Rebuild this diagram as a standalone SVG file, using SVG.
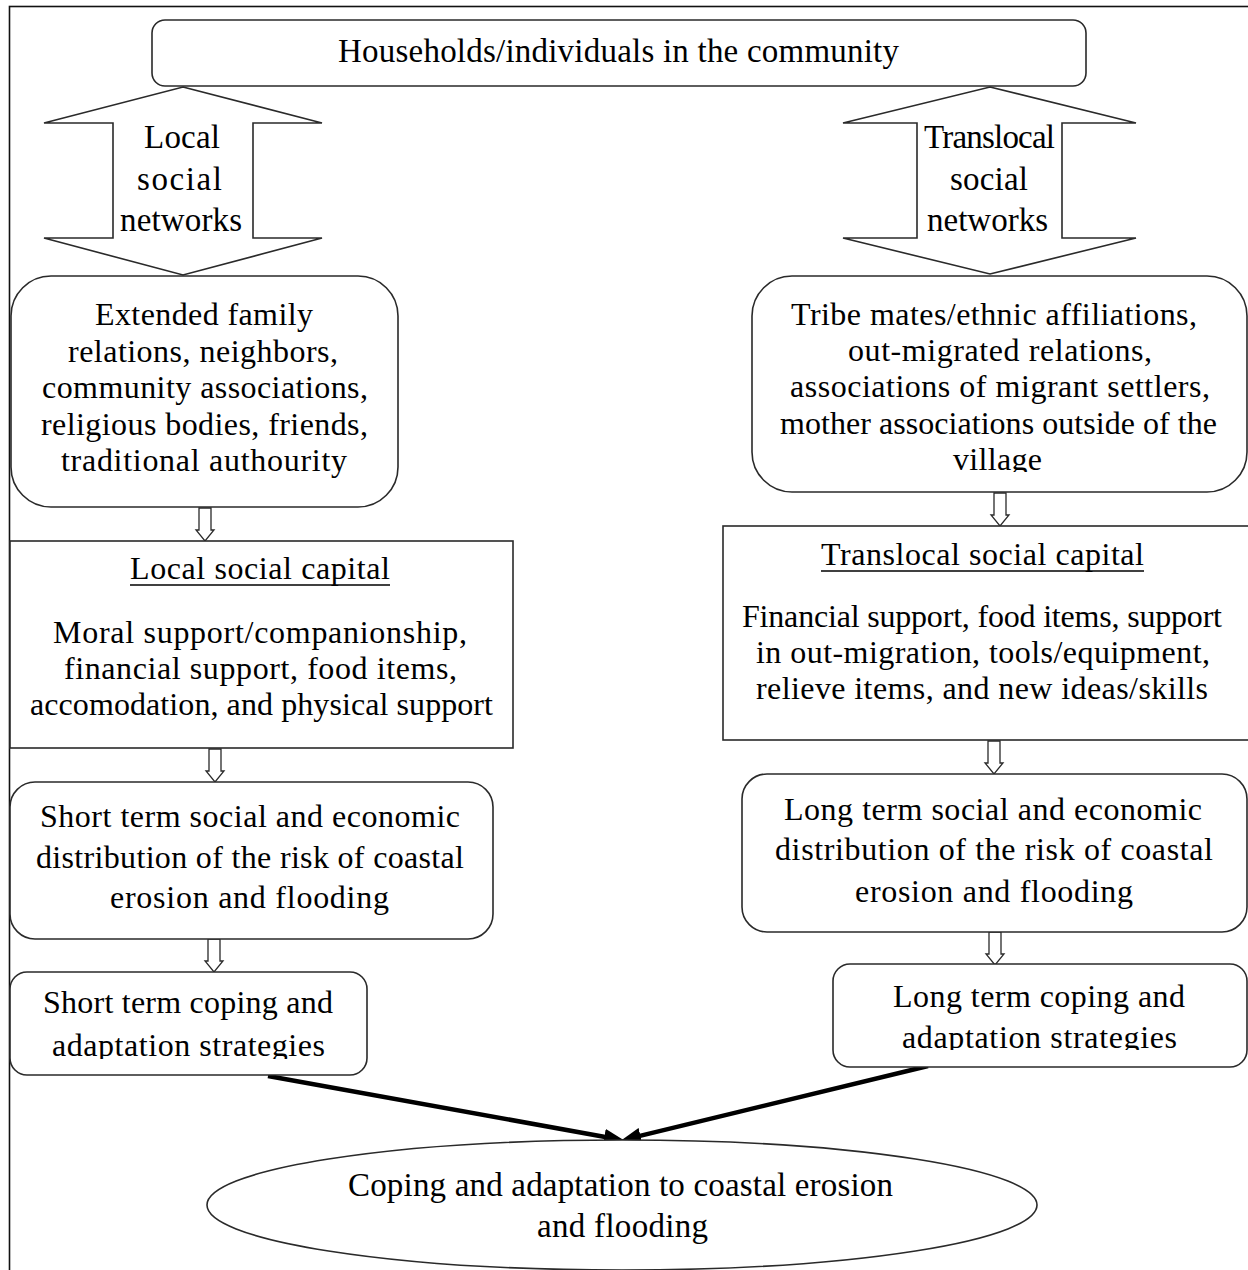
<svg xmlns="http://www.w3.org/2000/svg" width="1248" height="1270" viewBox="0 0 1248 1270">
  <style>
    .bx { fill: #fff; stroke: #2a2a2a; stroke-width: 1.6; }
    .t { font-family: "Liberation Serif", "Times New Roman", serif; font-size: 32px; fill: #000; }
    .tt { font-family: "Liberation Serif", "Times New Roman", serif; font-size: 33px; fill: #000; }
    .ul { stroke: #000; stroke-width: 1.5; }
    .ha { fill: #fff; stroke: #2a2a2a; stroke-width: 1.3; }
    .thick { stroke: #000; stroke-width: 4.5; fill: none; }
  </style>
  <defs>
    <marker id="head" markerUnits="userSpaceOnUse" viewBox="0 0 20 16" markerWidth="20" markerHeight="16" refX="8" refY="8" orient="auto">
      <path d="M0,0 L20,8 L0,16 Z" fill="#000"/>
    </marker>
    <path id="smallArrow" d="M-6,0 L6,0 L6,22 L9,22 L0,33 L-9,22 L-6,22 Z"/>
    <clipPath id="clipVillage"><rect x="740" y="270" width="520" height="202"/></clipPath>
    <clipPath id="clipShortCope"><rect x="0" y="970" width="400" height="89"/></clipPath>
    <clipPath id="clipLongCope"><rect x="830" y="960" width="430" height="90"/></clipPath>
  </defs>

  <rect x="9.5" y="6.5" width="1300" height="1300" fill="#fff" stroke="#111" stroke-width="1.6"/>

  <g id="connectors">
    <use href="#smallArrow" class="ha" x="205" y="508"/>
    <use href="#smallArrow" class="ha" x="215" y="749"/>
    <use href="#smallArrow" class="ha" x="214" y="939"/>
    <use href="#smallArrow" class="ha" x="1000" y="493"/>
    <use href="#smallArrow" class="ha" x="994" y="741"/>
    <use href="#smallArrow" class="ha" x="995" y="932"/>
    <line class="thick" x1="268" y1="1076" x2="612.2" y2="1138.2" marker-end="url(#head)"/>
    <line class="thick" x1="928" y1="1066" x2="632.7" y2="1137.6" marker-end="url(#head)"/>
  </g>

  <g id="households">
    <rect class="bx" x="152" y="20" width="934" height="66" rx="13"/>
    <text class="tt" x="338" y="62" textLength="561" lengthAdjust="spacing">Households/individuals in the community</text>
  </g>

  <g id="local-networks">
    <polygon class="bx" points="183,87 322,123 253,123 253,238 322,238 183,275 44,238 113,238 113,123 44,123"/>
    <text class="tt" x="144" y="148" textLength="76" lengthAdjust="spacing">Local</text>
    <text class="tt" x="137" y="190" textLength="85" lengthAdjust="spacing">social</text>
    <text class="tt" x="120" y="231" textLength="122" lengthAdjust="spacing">networks</text>
  </g>

  <g id="translocal-networks">
    <polygon class="bx" points="990,87 1136,123 1062,123 1062,238 1136,238 990,274 843,238 917,238 917,123 843,123"/>
    <text class="tt" x="924" y="148" textLength="131" lengthAdjust="spacing">Translocal</text>
    <text class="tt" x="950" y="190" textLength="78" lengthAdjust="spacing">social</text>
    <text class="tt" x="927" y="231" textLength="121" lengthAdjust="spacing">networks</text>
  </g>

  <g id="local-ties">
    <rect class="bx" x="11" y="276" width="387" height="231" rx="40"/>
    <text class="t" x="95" y="325" textLength="218" lengthAdjust="spacing">Extended family</text>
    <text class="t" x="68" y="362" textLength="270" lengthAdjust="spacing">relations, neighbors,</text>
    <text class="t" x="42" y="398" textLength="326" lengthAdjust="spacing">community associations,</text>
    <text class="t" x="41" y="435" textLength="327" lengthAdjust="spacing">religious bodies, friends,</text>
    <text class="t" x="61" y="471" textLength="286" lengthAdjust="spacing">traditional authourity</text>
  </g>

  <g id="translocal-ties">
    <rect class="bx" x="752" y="276" width="495" height="216" rx="40"/>
    <g clip-path="url(#clipVillage)">
      <text class="t" x="791" y="325" textLength="406" lengthAdjust="spacing">Tribe mates/ethnic affiliations,</text>
      <text class="t" x="848" y="361" textLength="304" lengthAdjust="spacing">out-migrated relations,</text>
      <text class="t" x="790" y="397" textLength="420" lengthAdjust="spacing">associations of migrant settlers,</text>
      <text class="t" x="780" y="434" textLength="437" lengthAdjust="spacing">mother associations outside of the</text>
      <text class="t" x="953" y="470" textLength="89" lengthAdjust="spacing">village</text>
    </g>
  </g>

  <g id="local-capital">
    <rect class="bx" x="10" y="541" width="503" height="207"/>
    <text class="t" x="130" y="579" textLength="260" lengthAdjust="spacing">Local social capital</text>
    <line class="ul" x1="130" y1="585" x2="390" y2="585"/>
    <text class="t" x="53" y="643" textLength="414" lengthAdjust="spacing">Moral support/companionship,</text>
    <text class="t" x="64" y="679" textLength="393" lengthAdjust="spacing">financial support, food items,</text>
    <text class="t" x="30" y="715" textLength="463" lengthAdjust="spacing">accomodation, and physical support</text>
  </g>

  <g id="translocal-capital">
    <rect class="bx" x="723" y="526" width="540" height="214"/>
    <text class="t" x="821" y="565" textLength="323" lengthAdjust="spacing">Translocal social capital</text>
    <line class="ul" x1="821" y1="571" x2="1144" y2="571"/>
    <text class="t" x="742" y="627" textLength="480" lengthAdjust="spacing">Financial support, food items, support</text>
    <text class="t" x="756" y="663" textLength="454" lengthAdjust="spacing">in out-migration, tools/equipment,</text>
    <text class="t" x="756" y="699" textLength="452" lengthAdjust="spacing">relieve items, and new ideas/skills</text>
  </g>

  <g id="short-term-distribution">
    <rect class="bx" x="10" y="782" width="483" height="157" rx="25"/>
    <text class="t" x="40" y="827" textLength="420" lengthAdjust="spacing">Short term social and economic</text>
    <text class="t" x="36" y="868" textLength="428" lengthAdjust="spacing">distribution of the risk of coastal</text>
    <text class="t" x="110" y="908" textLength="279" lengthAdjust="spacing">erosion and flooding</text>
  </g>

  <g id="long-term-distribution">
    <rect class="bx" x="742" y="774" width="505" height="158" rx="25"/>
    <text class="t" x="784" y="820" textLength="418" lengthAdjust="spacing">Long term social and economic</text>
    <text class="t" x="775" y="860" textLength="438" lengthAdjust="spacing">distribution of the risk of coastal</text>
    <text class="t" x="855" y="902" textLength="278" lengthAdjust="spacing">erosion and flooding</text>
  </g>

  <g id="short-term-coping">
    <rect class="bx" x="10" y="972" width="357" height="103" rx="17"/>
    <g clip-path="url(#clipShortCope)">
      <text class="t" x="43" y="1013" textLength="290" lengthAdjust="spacing">Short term coping and</text>
      <text class="t" x="52" y="1056" textLength="273" lengthAdjust="spacing">adaptation strategies</text>
    </g>
  </g>

  <g id="long-term-coping">
    <rect class="bx" x="833" y="964" width="414" height="103" rx="17"/>
    <g clip-path="url(#clipLongCope)">
      <text class="t" x="893" y="1007" textLength="292" lengthAdjust="spacing">Long term coping and</text>
      <text class="t" x="902" y="1048" textLength="275" lengthAdjust="spacing">adaptation strategies</text>
    </g>
  </g>

  <g id="outcome">
    <ellipse class="bx" cx="622" cy="1205" rx="415" ry="65"/>
    <text class="tt" x="348" y="1196" textLength="545" lengthAdjust="spacing">Coping and adaptation to coastal erosion</text>
    <text class="tt" x="537" y="1237" textLength="171" lengthAdjust="spacing">and flooding</text>
  </g>
</svg>
